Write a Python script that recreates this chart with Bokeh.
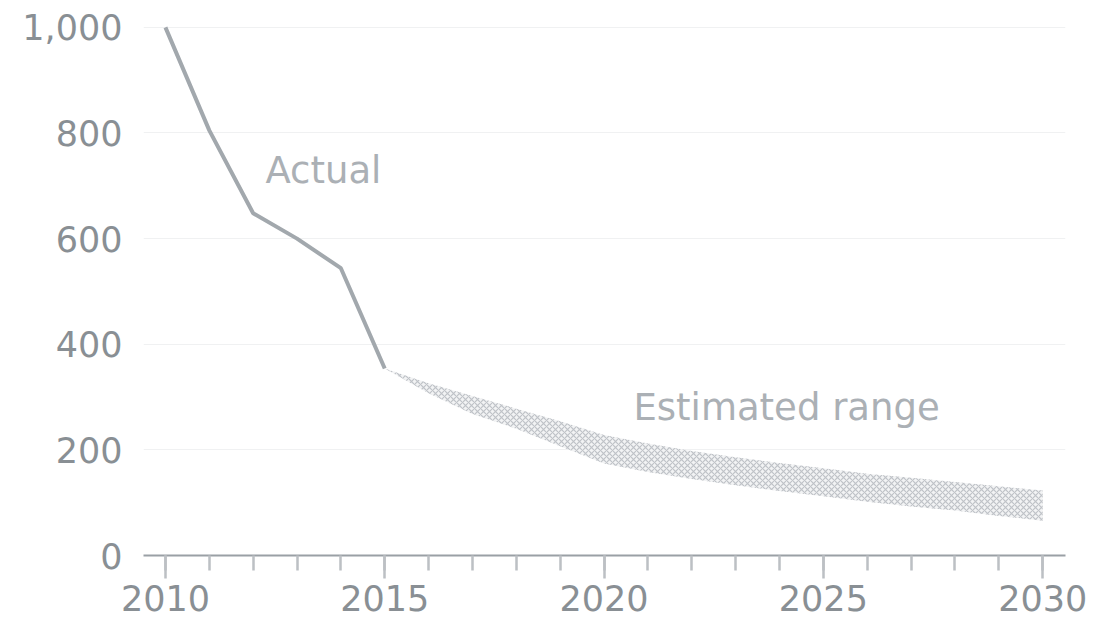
from bokeh.plotting import figure
from bokeh.models import SingleIntervalTicker, FixedTicker, NumeralTickFormatter, Range1d
from bokeh.core.properties import value
from bokeh.embed import file_html
from bokeh.resources import INLINE

# Data
years_actual = [2010, 2011, 2012, 2013, 2014, 2015]
actual = [1000, 805, 648, 600, 544, 354]

years_est = [2015, 2016, 2017, 2018, 2019, 2020, 2021, 2022, 2023, 2024, 2025, 2026, 2027, 2028, 2029, 2030]
est_upper = [354, 326, 302, 278, 254, 228, 212, 198, 186, 175, 165, 155, 147, 139, 131, 123]
est_lower = [354, 307, 268, 240, 207, 174, 158, 145, 133, 122, 112, 102, 93, 85, 75, 66]

y_ticks = [0, 200, 400, 600, 800, 1000]
label_actual = "Actual"
label_est = "Estimated range"

FONT = "DejaVu Sans"

p = figure(width=1101, height=624, output_backend="svg", toolbar_location=None,
           x_range=Range1d(2009.5, 2030.52), y_range=Range1d(0, 1013),
           min_border_left=143, min_border_right=36, min_border_top=20, min_border_bottom=69)
p.outline_line_color = None
p.background_fill_color = "white"

# Estimated range band
p.varea(x=years_est, y1=est_lower, y2=est_upper, fill_color="#f2f3f4", fill_alpha=1.0,
        hatch_pattern="x", hatch_color="#b9bdc2", hatch_scale=6, hatch_weight=1.2, hatch_alpha=0.9)

# Actual line
p.line(years_actual, actual, line_color="#a2a8ad", line_width=4)

# Annotations
p.text(x=[2012.28], y=[729], text=[label_actual], text_font=value(FONT), text_font_size="37px",
       text_color="#abb0b5", text_align="left", text_baseline="middle")
p.text(x=[2020.67], y=[280], text=[label_est], text_font=value(FONT), text_font_size="37px",
       text_color="#abb0b5", text_align="left", text_baseline="middle")

# X axis
xa = p.xaxis[0]
xa.ticker = SingleIntervalTicker(interval=5, num_minor_ticks=5)
xa.axis_line_color = "#9aa0a5"
xa.axis_line_width = 2
xa.major_tick_line_color = "#bcc0c4"
xa.major_tick_line_width = 2.5
xa.minor_tick_line_color = "#bcc0c4"
xa.minor_tick_line_width = 2.5
xa.major_tick_in = 0
xa.major_tick_out = 23
xa.minor_tick_in = 0
xa.minor_tick_out = 15
xa.major_label_standoff = 6
xa.major_label_text_font = FONT
xa.major_label_text_font_size = "35px"
xa.major_label_text_color = "#898f94"

# Y axis
ya = p.yaxis[0]
ya.ticker = FixedTicker(ticks=y_ticks)
ya.formatter = NumeralTickFormatter(format="0,0")
ya.axis_line_color = None
ya.major_tick_line_color = None
ya.minor_tick_line_color = None
ya.major_label_standoff = 15
ya.major_label_text_font = FONT
ya.major_label_text_font_size = "35px"
ya.major_label_text_color = "#898f94"

p.xgrid.grid_line_color = None
p.ygrid.grid_line_color = "#f0f1f2"
p.ygrid.grid_line_width = 1.2
p.ygrid.ticker = FixedTicker(ticks=y_ticks[1:])

open("out.html", "w").write(file_html(p, INLINE))
